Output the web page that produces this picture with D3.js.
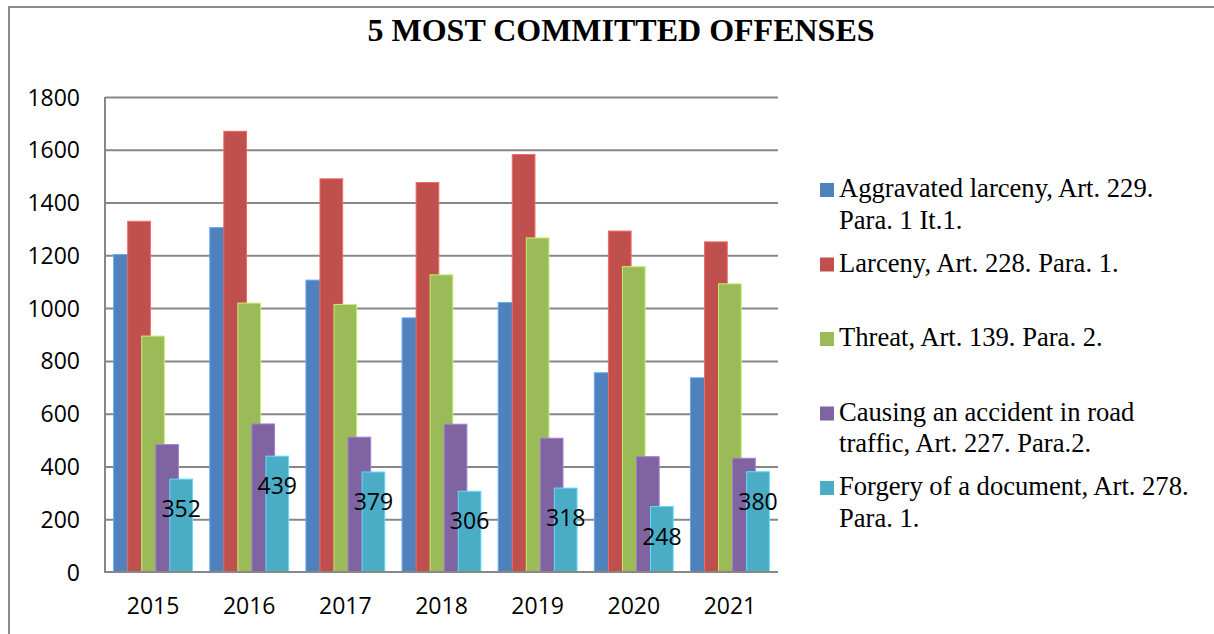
<!DOCTYPE html>
<meta charset="utf-8">
<style>
    body { margin: 0; background: #fff; }
    .title {
        font-family: "Liberation Serif", "Times New Roman", serif;
        font-weight: bold;
        font-size: 32px;
        fill: #000;
    }
    .axis text, .barLabel {
        font-family: "Open Sans", sans-serif;
        font-size: 23px;
        fill: #000;
    }
    .grid .tick line {
        stroke: #878787;
        stroke-width: 2px;
    }
    .grid path { stroke-width: 0; }
    .axis path, .axis line { stroke-width: 0; }
    .legend text {
        font-family: "Liberation Serif", "Times New Roman", serif;
        font-size: 26.6px;
        fill: #000;
    }
</style>

<body>
    <svg width="1214" height="634"></svg>
</body>

<script src="https://d3js.org/d3.v7.min.js"></script>
<script>

    // data
    var years = ["2015", "2016", "2017", "2018", "2019", "2020", "2021"];
    var seriesNames = [
        ["Aggravated larceny, Art. 229.", "Para. 1 It.1."],
        ["Larceny, Art. 228. Para. 1."],
        ["Threat, Art. 139. Para. 2."],
        ["Causing an accident in road", "traffic, Art. 227. Para.2."],
        ["Forgery of a document, Art. 278.", "Para. 1."]
    ];
    var aggravatedLarceny = [1203, 1305, 1106, 963, 1021, 755, 736];
    var larceny           = [1329, 1670, 1490, 1476, 1582, 1292, 1251];
    var threat            = [894, 1019, 1014, 1126, 1266, 1157, 1092];
    var accident          = [483, 561, 511, 560, 507, 437, 431];
    var forgery           = [352, 439, 379, 306, 318, 248, 380];
    var yTicks = [0, 200, 400, 600, 800, 1000, 1200, 1400, 1600, 1800];
    var colors = ["#4F81BD", "#C0504D", "#9BBB59", "#8064A2", "#4BACC6"];

    var values = [aggravatedLarceny, larceny, threat, accident, forgery];

    var svg = d3.select("svg"),
            width = +svg.attr("width"),
            height = +svg.attr("height");

    // outer frame (left and top edges visible)
    svg.append("path")
            .attr("d", "M9," + height + "V7H" + width)
            .attr("fill", "none")
            .attr("stroke", "#8a8a8a")
            .attr("stroke-width", 2);

    svg.append("text")
            .attr("class", "title")
            .attr("x", 621)
            .attr("y", 41)
            .style("text-anchor", "middle")
            .text("5 MOST COMMITTED OFFENSES");

    var plot = {left: 105, right: 778, top: 97, bottom: 572};

    var x0 = d3.scaleBand()
            .domain(years)
            .range([plot.left, plot.right])
            .padding(0);

    var step = x0.step();
    // bars overlap a bit, each one shifted by ~0.146 of a category
    var x1 = d3.scalePoint()
            .domain(d3.range(values.length))
            .range([step * 0.09, step * 0.09 + step * 0.146 * 4]);
    var barW = step * 0.236;

    var y = d3.scaleLinear()
            .domain([0, 1800])
            .range([plot.bottom, plot.top]);

    // horizontal grid
    svg.append("g")
            .attr("class", "grid")
            .attr("transform", "translate(" + plot.left + ",0)")
            .call(d3.axisLeft(y)
                    .tickValues(yTicks.slice(1))
                    .tickSize(-(plot.right - plot.left))
                    .tickFormat(""));

    // y labels
    svg.append("g")
            .attr("class", "axis")
            .attr("transform", "translate(" + (plot.left - 25) + ",0)")
            .call(d3.axisLeft(y).tickValues(yTicks).tickFormat(d3.format("d")).tickSize(0).tickPadding(0))
            .selectAll("text")
            .attr("dy", "0.35em");

    // x labels
    svg.append("g")
            .attr("class", "axis")
            .attr("transform", "translate(0," + plot.bottom + ")")
            .call(d3.axisBottom(x0).tickSize(0).tickPadding(26));

    // bars, later series drawn on top
    var series = svg.selectAll(".series")
            .data(values)
            .enter().append("g")
            .attr("class", "series")
            .style("fill", function (d, i) { return colors[i]; })
            .style("stroke", function (d, i) { return d3.color(colors[i]).brighter(0.7); })
            .style("stroke-width", 1);

    series.selectAll("rect")
            .data(function (d, i) {
                return d.map(function (v, j) { return {s: i, year: years[j], value: v}; });
            })
            .enter().append("rect")
            .attr("x", function (d) { return x0(d.year) + x1(d.s); })
            .attr("y", function (d) { return y(d.value); })
            .attr("width", barW)
            .attr("height", function (d) { return plot.bottom - y(d.value); });

    // axis lines
    svg.append("path")
            .attr("d", "M" + plot.left + "," + plot.top + "V" + plot.bottom + "H" + plot.right)
            .attr("fill", "none")
            .attr("stroke", "#878787")
            .attr("stroke-width", 2);

    // labels on the forgery bars
    svg.selectAll(".barLabel")
            .data(forgery)
            .enter().append("text")
            .attr("class", "barLabel")
            .attr("x", function (d, j) { return x0(years[j]) + x1(4) + barW / 2; })
            .attr("y", function (d) { return y(d) + 30; })
            .attr("dy", "0.35em")
            .style("text-anchor", "middle")
            .text(function (d) { return d; });

    // legend
    var legend = svg.append("g")
            .attr("class", "legend")
            .attr("transform", "translate(820,197)");

    var item = legend.selectAll("g")
            .data(seriesNames)
            .enter().append("g")
            .attr("transform", function (d, i) { return "translate(0," + (i * 74.5) + ")"; });

    item.append("rect")
            .attr("y", -14)
            .attr("width", 14)
            .attr("height", 14)
            .style("fill", function (d, i) { return colors[i]; });

    item.append("text")
            .selectAll("tspan")
            .data(function (d) { return d; })
            .enter().append("tspan")
            .attr("x", 19)
            .attr("y", function (d, k) { return k * 31.5; })
            .text(function (d) { return d; });

</script>
